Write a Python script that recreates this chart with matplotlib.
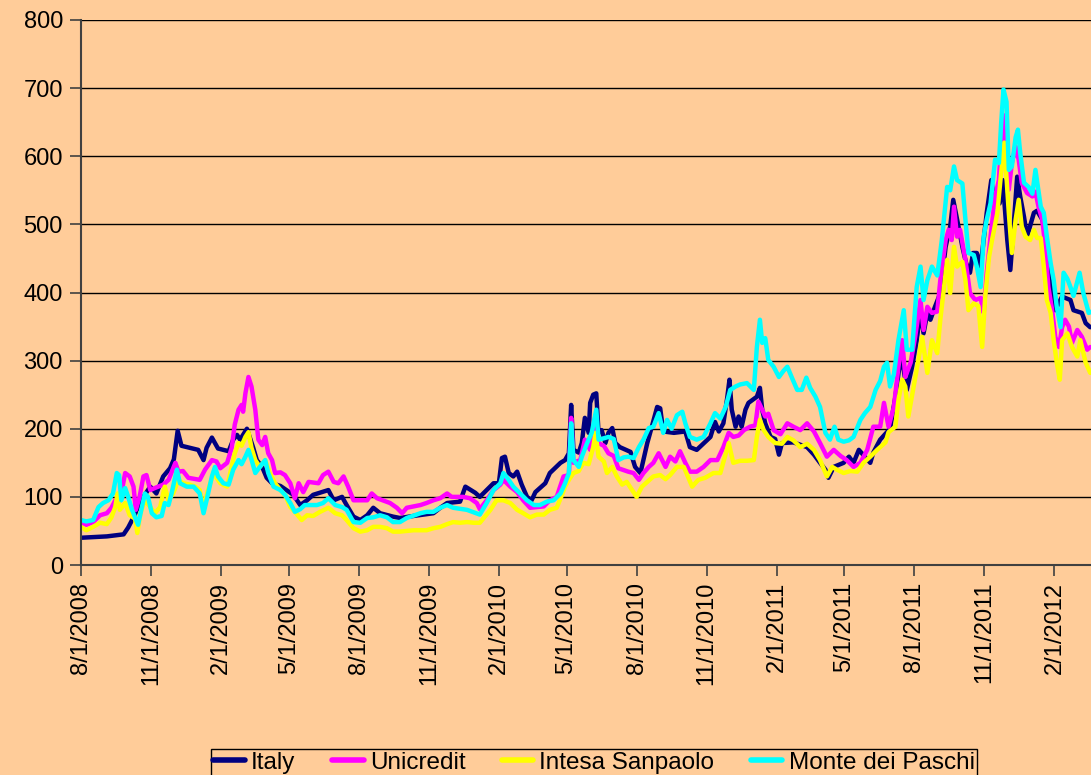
import pandas as pd
import matplotlib
matplotlib.use('Agg')
import matplotlib.pyplot as plt
import matplotlib.dates as mdates
from matplotlib.ticker import FuncFormatter

plt.rcParams['font.family'] = ['Liberation Sans', 'DejaVu Sans']

# days counted from 8/1/2008
start = pd.Timestamp('2008-08-01')
end = pd.Timestamp('2012-03-20')

italy_days = [0, 16, 34, 56, 62, 69, 75, 82, 91, 99, 108, 117, 122, 127, 132, 143, 154, 161, 165, 172, 180, 194, 200, 205, 209, 218, 226, 231, 238, 244, 251, 262, 279, 288, 297, 305, 325, 332, 343, 349, 358, 367, 376, 384, 393, 410, 419, 437, 463, 472, 481, 498, 505, 518, 524, 533, 542, 549, 553, 557, 562, 568, 573, 579, 586, 592, 597, 610, 616, 630, 636, 641, 644, 647, 654, 658, 662, 667, 669, 673, 677, 680, 684, 689, 693, 698, 702, 708, 722, 728, 735, 744, 750, 757, 761, 765, 779, 794, 800, 809, 827, 833, 838, 844, 849, 852, 855, 860, 864, 868, 873, 877, 888, 892, 895, 899, 906, 912, 917, 921, 936, 954, 963, 971, 978, 982, 989, 1002, 1009, 1015, 1022, 1037, 1041, 1050, 1063, 1070, 1077, 1081, 1085, 1092, 1098, 1103, 1107, 1112, 1116, 1122, 1129, 1136, 1142, 1146, 1152, 1158, 1163, 1168, 1172, 1177, 1182, 1186, 1190, 1196, 1201, 1207, 1211, 1217, 1221, 1225, 1230, 1234, 1239, 1243, 1252, 1256, 1263, 1267, 1271, 1276, 1280, 1289, 1300, 1304, 1315, 1320, 1326]
italy = [40, 41, 42, 45, 55, 70, 85, 100, 115, 105, 130, 142, 155, 197, 175, 172, 169, 154, 172, 187, 171, 167, 184, 191, 184, 200, 173, 154, 144, 128, 120, 116, 103, 88, 95, 103, 110, 95, 100, 88, 71, 66, 73, 84, 76, 71, 69, 72, 76, 84, 91, 93, 115, 106, 100, 110, 120, 120, 157, 159, 135, 130, 137, 118, 100, 95, 107, 120, 135, 150, 154, 164, 235, 169, 165, 179, 216, 194, 238, 250, 252, 194, 198, 179, 194, 201, 179, 173, 166, 144, 135, 179, 203, 232, 230, 196, 194, 196, 173, 169, 188, 210, 196, 208, 245, 272, 228, 203, 218, 203, 228, 238, 247, 260, 228, 208, 188, 185, 162, 179, 180, 173, 162, 150, 140, 128, 144, 150, 159, 150, 169, 150, 165, 184, 200, 247, 306, 286, 257, 291, 330, 374, 340, 370, 360, 379, 399, 467, 497, 536, 502, 467, 443, 429, 458, 458, 438, 477, 517, 565, 526, 531, 565, 477, 433, 492, 570, 541, 511, 482, 517, 520, 507, 487, 429, 399, 374, 394, 389, 374, 370, 355, 349]

unicredit_days = [0, 7, 16, 25, 34, 40, 45, 49, 53, 58, 64, 69, 72, 77, 82, 86, 91, 97, 108, 115, 124, 128, 134, 141, 156, 163, 172, 178, 183, 192, 198, 202, 207, 211, 213, 216, 220, 224, 229, 233, 238, 242, 246, 251, 255, 262, 268, 275, 281, 286, 292, 299, 312, 318, 325, 332, 338, 345, 351, 358, 376, 382, 389, 406, 415, 422, 428, 446, 454, 463, 472, 481, 487, 502, 511, 520, 524, 533, 542, 551, 555, 564, 573, 581, 590, 608, 616, 625, 634, 641, 644, 647, 656, 662, 669, 676, 680, 687, 693, 700, 706, 719, 726, 733, 739, 746, 752, 759, 763, 768, 774, 781, 787, 794, 800, 809, 818, 827, 836, 844, 851, 857, 864, 871, 879, 886, 890, 895, 899, 903, 910, 919, 928, 936, 945, 954, 963, 971, 980, 989, 998, 1006, 1015, 1024, 1033, 1041, 1050, 1055, 1061, 1068, 1074, 1079, 1083, 1090, 1096, 1103, 1107, 1112, 1118, 1125, 1129, 1136, 1140, 1144, 1147, 1151, 1155, 1162, 1168, 1175, 1182, 1186, 1190, 1195, 1201, 1206, 1210, 1213, 1219, 1223, 1228, 1232, 1236, 1243, 1250, 1254, 1258, 1263, 1267, 1271, 1276, 1280, 1285, 1289, 1293, 1298, 1302, 1309, 1315, 1322, 1326]
unicredit = [62, 59, 63, 73, 76, 84, 95, 88, 105, 135, 130, 115, 81, 100, 130, 132, 110, 113, 118, 125, 150, 137, 138, 128, 125, 140, 154, 152, 142, 150, 172, 206, 228, 235, 225, 252, 276, 262, 228, 184, 176, 188, 164, 154, 135, 136, 132, 120, 98, 120, 107, 122, 120, 132, 137, 122, 120, 130, 115, 95, 95, 105, 98, 91, 84, 76, 84, 88, 91, 95, 98, 105, 100, 100, 98, 91, 82, 95, 110, 118, 125, 115, 107, 95, 84, 86, 95, 100, 130, 132, 216, 150, 154, 184, 169, 220, 179, 175, 164, 160, 142, 137, 135, 125, 135, 144, 150, 164, 155, 144, 159, 152, 167, 150, 137, 137, 144, 154, 154, 173, 194, 188, 190, 198, 203, 205, 240, 228, 218, 222, 198, 192, 208, 203, 198, 208, 196, 179, 159, 169, 160, 154, 144, 150, 169, 203, 203, 238, 203, 232, 291, 330, 276, 297, 335, 389, 345, 379, 370, 372, 418, 477, 492, 477, 526, 482, 492, 448, 399, 389, 392, 370, 429, 482, 541, 565, 639, 660, 551, 590, 614, 595, 561, 546, 541, 548, 526, 507, 467, 408, 374, 335, 320, 349, 360, 350, 326, 345, 335, 316, 320]

intesa_days = [0, 7, 16, 25, 34, 40, 45, 48, 51, 58, 64, 71, 74, 78, 84, 91, 97, 104, 110, 115, 121, 128, 134, 143, 150, 156, 161, 167, 174, 183, 192, 198, 202, 207, 211, 216, 220, 224, 229, 235, 242, 248, 255, 262, 268, 275, 281, 290, 297, 305, 314, 325, 334, 343, 349, 358, 367, 376, 384, 393, 402, 410, 419, 437, 454, 463, 472, 481, 489, 498, 507, 516, 524, 538, 546, 555, 564, 573, 581, 590, 599, 608, 616, 625, 632, 636, 641, 647, 654, 660, 667, 673, 676, 680, 687, 691, 698, 704, 711, 717, 724, 730, 737, 744, 752, 761, 768, 774, 783, 792, 803, 811, 820, 831, 840, 851, 857, 866, 875, 884, 888, 892, 897, 903, 912, 921, 928, 936, 945, 954, 963, 971, 980, 987, 993, 1002, 1011, 1020, 1028, 1037, 1046, 1057, 1061, 1070, 1074, 1079, 1083, 1087, 1094, 1101, 1105, 1112, 1118, 1125, 1129, 1133, 1138, 1142, 1147, 1151, 1158, 1162, 1166, 1173, 1179, 1184, 1188, 1193, 1197, 1204, 1208, 1213, 1219, 1223, 1228, 1232, 1236, 1241, 1247, 1252, 1256, 1261, 1265, 1269, 1274, 1278, 1282, 1286, 1289, 1296, 1302, 1309, 1313, 1320, 1326]
intesa = [56, 51, 56, 62, 60, 70, 85, 105, 81, 91, 73, 68, 47, 76, 95, 85, 76, 85, 115, 95, 105, 125, 120, 118, 115, 110, 85, 110, 135, 120, 115, 144, 164, 179, 175, 188, 195, 172, 154, 144, 154, 135, 120, 110, 103, 85, 78, 66, 73, 72, 78, 84, 76, 73, 66, 54, 49, 51, 56, 56, 54, 49, 49, 51, 51, 54, 56, 60, 63, 62, 63, 62, 62, 81, 95, 95, 91, 81, 76, 70, 74, 74, 81, 84, 103, 115, 125, 135, 138, 150, 148, 173, 194, 159, 152, 135, 144, 130, 118, 122, 110, 100, 115, 122, 130, 132, 126, 132, 144, 144, 115, 125, 128, 135, 135, 179, 150, 153, 153, 154, 188, 213, 198, 188, 179, 178, 188, 183, 173, 178, 169, 154, 130, 144, 140, 135, 138, 137, 150, 159, 169, 180, 195, 203, 242, 272, 262, 218, 262, 306, 335, 282, 330, 311, 360, 399, 448, 399, 467, 438, 445, 418, 374, 384, 380, 320, 394, 452, 477, 517, 565, 620, 517, 458, 507, 536, 497, 482, 477, 492, 480, 480, 438, 389, 370, 330, 297, 272, 330, 340, 320, 306, 330, 297, 282]

mps_days = [0, 7, 16, 23, 29, 36, 42, 47, 50, 53, 58, 62, 67, 71, 75, 80, 84, 88, 93, 99, 106, 110, 115, 119, 126, 130, 139, 148, 156, 161, 165, 172, 176, 180, 187, 194, 200, 207, 211, 216, 220, 224, 229, 235, 242, 246, 253, 262, 268, 275, 281, 288, 294, 310, 318, 325, 334, 343, 349, 358, 367, 376, 384, 393, 402, 410, 419, 428, 446, 454, 463, 472, 481, 489, 507, 524, 533, 542, 551, 555, 562, 568, 577, 586, 595, 603, 612, 621, 630, 636, 641, 644, 647, 654, 658, 665, 671, 677, 680, 687, 693, 700, 706, 713, 719, 726, 733, 739, 746, 752, 759, 765, 770, 776, 783, 790, 794, 800, 809, 818, 827, 833, 840, 847, 853, 860, 866, 875, 884, 888, 892, 895, 899, 903, 910, 917, 923, 928, 934, 941, 947, 953, 958, 965, 971, 978, 984, 990, 995, 1002, 1009, 1015, 1024, 1030, 1037, 1044, 1050, 1055, 1059, 1063, 1068, 1074, 1081, 1085, 1092, 1098, 1103, 1107, 1112, 1118, 1125, 1131, 1138, 1142, 1147, 1151, 1158, 1162, 1166, 1173, 1177, 1182, 1186, 1190, 1195, 1201, 1206, 1209, 1212, 1216, 1219, 1223, 1228, 1231, 1234, 1239, 1245, 1250, 1254, 1261, 1265, 1269, 1274, 1278, 1282, 1287, 1291, 1296, 1300, 1304, 1312, 1317, 1324, 1328]
mps = [66, 64, 66, 85, 91, 95, 105, 135, 132, 95, 113, 100, 81, 70, 59, 85, 105, 100, 76, 70, 72, 91, 88, 105, 140, 120, 115, 115, 105, 76, 95, 130, 144, 130, 120, 118, 140, 154, 148, 159, 169, 155, 135, 144, 154, 135, 115, 110, 103, 91, 78, 82, 88, 88, 91, 98, 88, 85, 81, 63, 62, 69, 70, 73, 70, 63, 63, 69, 76, 78, 78, 84, 88, 84, 81, 74, 91, 110, 120, 135, 125, 115, 105, 95, 88, 88, 93, 95, 105, 120, 135, 208, 154, 144, 159, 179, 194, 228, 184, 186, 188, 185, 154, 158, 159, 157, 173, 184, 201, 203, 223, 194, 213, 200, 220, 225, 208, 188, 184, 188, 208, 223, 215, 232, 257, 262, 265, 267, 257, 320, 360, 326, 333, 301, 291, 276, 285, 291, 275, 257, 257, 275, 260, 247, 232, 194, 184, 203, 184, 181, 183, 188, 213, 223, 232, 257, 270, 291, 297, 262, 280, 330, 374, 316, 316, 408, 438, 389, 418, 438, 425, 477, 555, 550, 585, 565, 560, 507, 458, 455, 438, 408, 482, 507, 531, 595, 590, 649, 698, 680, 580, 585, 628, 639, 605, 561, 555, 545, 580, 526, 517, 482, 443, 418, 379, 349, 429, 420, 408, 395, 429, 399, 370, 372]

series = [
    ('Italy', italy_days, italy, '#000080'),
    ('Unicredit', unicredit_days, unicredit, '#FF00FF'),
    ('Intesa Sanpaolo', intesa_days, intesa, '#FFFF00'),
    ('Monte dei Paschi', mps_days, mps, '#00FFFF'),
]

bg = '#FFCC99'
fig = plt.figure(figsize=(10.91, 7.75), dpi=100, facecolor=bg)
ax = fig.add_axes([81 / 1091, 1 - 565 / 775, 1 - 81 / 1091, 545 / 775])
ax.set_facecolor(bg)

handles = []
for name, days, vals, col in series:
    dates = start + pd.to_timedelta(days, unit='D')
    line, = ax.plot(dates, vals, color=col, lw=3.2, label=name,
                    solid_joinstyle='round', solid_capstyle='round')
    handles.append(line)

ax.set_ylim(0, 800)
ax.set_yticks(range(0, 801, 100))
ax.set_xlim(start, end)
ax.xaxis.set_major_locator(mdates.MonthLocator(bymonth=[2, 5, 8, 11], bymonthday=1))
ax.xaxis.set_major_formatter(FuncFormatter(
    lambda x, pos: (lambda d: f'{d.month}/{d.day}/{d.year}')(mdates.num2date(x))))
plt.setp(ax.get_xticklabels(), rotation=90)

ax.grid(axis='y', color='black', lw=1)
ax.set_axisbelow(True)
for s in ['top', 'right']:
    ax.spines[s].set_visible(False)
for s in ['left', 'bottom']:
    ax.spines[s].set_color('#404040')
    ax.spines[s].set_linewidth(1.5)
ax.tick_params(axis='both', direction='out', length=8, width=1.2,
               color='#404040', labelsize=17, labelcolor='black')
ax.tick_params(axis='y', pad=5)
ax.tick_params(axis='x', pad=4)

leg = fig.legend(handles=handles, loc='upper center',
                 bbox_to_anchor=(594 / 1091, 1 - 737 / 775), ncol=4,
                 frameon=True, fancybox=False, edgecolor='black',
                 facecolor=bg, framealpha=1, handlelength=1.3,
                 handletextpad=0.25, columnspacing=1.5, borderpad=0.1,
                 prop={'size': 17.5})
leg.get_frame().set_linewidth(1)
for h in leg.legend_handles:
    h.set_linewidth(4)

fig.savefig('out.png', dpi=100, facecolor=bg)
